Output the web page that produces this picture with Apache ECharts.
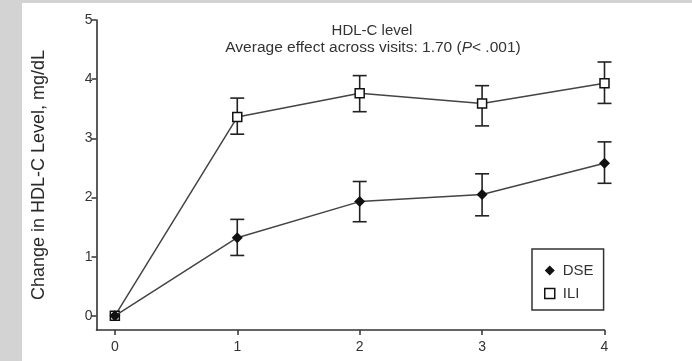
<!DOCTYPE html>
<html>
<head>
<meta charset="utf-8">
<script src="https://cdn.jsdelivr.net/npm/echarts@6/dist/echarts.min.js"></script>
<style>
html,body{margin:0;padding:0;background:#d3d3d3;}
#panel{position:absolute;left:22px;top:3px;width:670px;height:358px;background:#fff;}
#chart{position:absolute;left:0;top:0;width:692px;height:361px;}
</style>
</head>
<body>
<div id="panel"></div>
<div id="chart"></div>
<script>
var visits = [0, 1, 2, 3, 4];
var yTicks = [0, 1, 2, 3, 4, 5];
var xTicks = [0, 1, 2, 3, 4];
var dseMean = [0, 1.32, 1.93, 2.05, 2.58];
var dseLow  = [0, 1.02, 1.59, 1.69, 2.24];
var dseHigh = [0, 1.63, 2.27, 2.40, 2.94];
var iliMean = [0, 3.36, 3.76, 3.59, 3.93];
var iliLow  = [0, 3.07, 3.45, 3.21, 3.59];
var iliHigh = [0, 3.68, 4.06, 3.89, 4.29];

var FONT = '"Liberation Sans",Arial,sans-serif';
var INK = '#333';

function pairs(xs, ys){ return xs.map(function(x,i){ return [x, ys[i]]; }); }
function errData(lo, hi){ return visits.map(function(x,i){ return [x, lo[i], hi[i]]; }).filter(function(d){ return d[2] > d[1]; }); }

function errRender(params, api){
  var x = api.value(0);
  var lo = api.coord([x, api.value(1)]);
  var hi = api.coord([x, api.value(2)]);
  var w = 7;
  var st = {stroke: '#222', lineWidth: 1.6};
  return {type:'group', children:[
    {type:'line', shape:{x1:lo[0], y1:lo[1], x2:hi[0], y2:hi[1]}, style:st},
    {type:'line', shape:{x1:lo[0]-w, y1:lo[1], x2:lo[0]+w, y2:lo[1]}, style:st},
    {type:'line', shape:{x1:hi[0]-w, y1:hi[1], x2:hi[0]+w, y2:hi[1]}, style:st}
  ]};
}

var chart = echarts.init(document.getElementById('chart'));
chart.setOption({
  animation: false,
  backgroundColor: 'transparent',
  title: [
    {text: 'HDL-C level', left: 367, top: 18, textAlign: 'center',
     textStyle: {fontFamily: FONT, fontSize: 15, fontWeight: 'normal', color: INK}},
    {text: '{a|Average effect across visits: 1.70 (}{i|P}{a|< .001)}', left: 368, top: 35, textAlign: 'center',
     textStyle: {fontWeight: 'normal', rich: {
       a: {fontFamily: FONT, fontSize: 15.5, fontWeight: 'normal', color: INK},
       i: {fontFamily: FONT, fontSize: 15.5, fontWeight: 'normal', color: INK, fontStyle: 'italic'}
     }}}
  ],
  legend: {
    orient: 'vertical', left: 532, top: 249,
    borderColor: '#333', borderWidth: 1.5,
    padding: [14, 10, 9, 12],
    itemGap: 8, itemWidth: 10, itemHeight: 10,
    textStyle: {fontFamily: FONT, fontSize: 15, color: INK, padding: [0,0,0,3]},
    data: [
      {name: 'DSE', icon: 'diamond', itemStyle: {color: '#111', borderWidth: 0}},
      {name: 'ILI', icon: 'rect', itemStyle: {color: '#fff', borderColor: '#111', borderWidth: 1.5}}
    ]
  },
  grid: {left: 96.5, right: 87.5, top: 20, bottom: 31, containLabel: false},
  xAxis: {
    type: 'value', min: -0.15, max: 4,
    axisLine: {show: true, onZero: false, lineStyle: {color: INK, width: 1.6}},
    axisTick: {show: true, inside: false, length: 5, customValues: xTicks, lineStyle: {color: INK, width: 1.5}},
    axisLabel: {customValues: xTicks, fontFamily: FONT, fontSize: 14, color: INK, margin: 10},
    splitLine: {show: false}
  },
  yAxis: {
    type: 'value', min: -0.24, max: 5,
    name: 'Change in HDL-C Level, mg/dL', nameLocation: 'middle', nameGap: 48,
    nameTextStyle: {fontFamily: FONT, fontSize: 18, color: '#2a2a2a'},
    axisLine: {show: true, onZero: false, lineStyle: {color: INK, width: 1.6}},
    axisTick: {show: true, inside: false, length: 5, customValues: yTicks, lineStyle: {color: INK, width: 1.5}},
    axisLabel: {customValues: yTicks, fontFamily: FONT, fontSize: 14, color: INK, margin: 4},
    splitLine: {show: false}
  },
  series: [
    {name: 'ILI', type: 'line', data: pairs(visits, iliMean), z: 3,
     symbol: 'rect', symbolSize: 9,
     lineStyle: {color: '#444', width: 1.5},
     itemStyle: {color: '#fff', borderColor: '#111', borderWidth: 1.5}},
    {name: 'ILI err', type: 'custom', data: errData(iliLow, iliHigh), renderItem: errRender, z: 2, silent: true},
    {name: 'DSE', type: 'line', data: pairs(visits, dseMean), z: 4,
     symbol: 'diamond', symbolSize: 11,
     lineStyle: {color: '#444', width: 1.5},
     itemStyle: {color: '#111', borderColor: '#111', borderWidth: 0}},
    {name: 'DSE err', type: 'custom', data: errData(dseLow, dseHigh), renderItem: errRender, z: 2, silent: true}
  ]
});
</script>
</body>
</html>
